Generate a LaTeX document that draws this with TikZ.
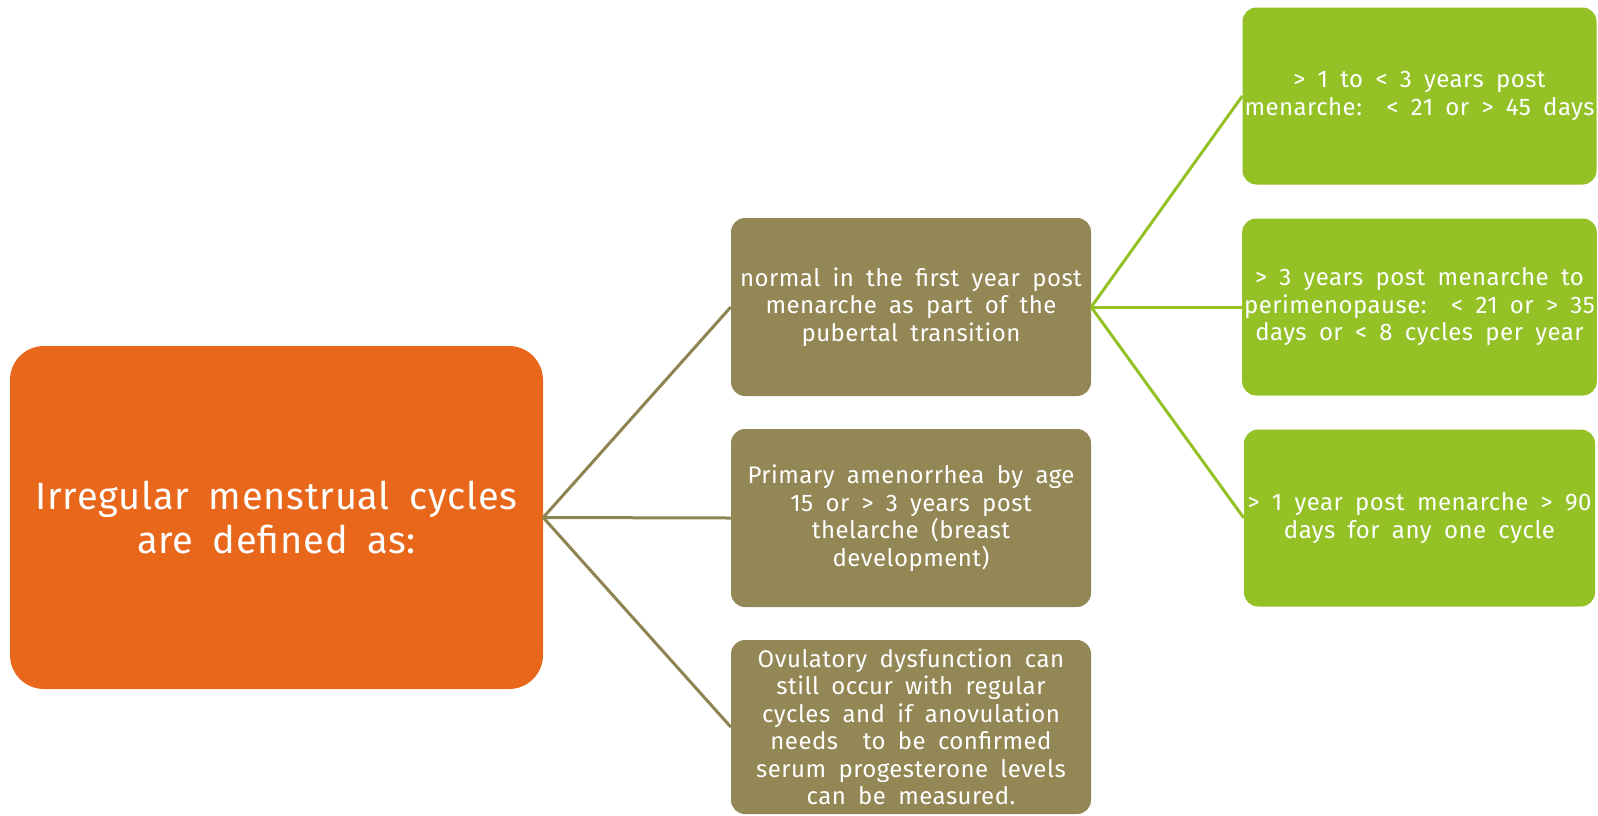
\documentclass[tikz,border=0pt]{standalone}
\usepackage{fontspec}
\setmainfont{Fira Sans}[WordSpace=1.8,LetterSpace=2]
\definecolor{rootorange}{HTML}{E8671A}
\definecolor{olivebox}{HTML}{938755}
\definecolor{greenbox}{HTML}{93C126}
\definecolor{oliveline}{HTML}{8E8452}
\begin{document}
\begin{tikzpicture}[x=1pt,y=-1pt,
  rootbox/.style={fill=rootorange, draw=none, rounded corners=34pt, text=white, align=center,
    minimum width=533pt, minimum height=343pt, inner sep=2pt,
    font=\fontsize{38}{44}\selectfont},
  midbox/.style={fill=olivebox, draw=none, rounded corners=14pt, text=white, align=center,
    minimum width=360pt, minimum height=178pt, inner sep=2pt,
    font=\fontsize{24}{27.5}\selectfont},
  rightbox/.style={fill=greenbox, draw=none, rounded corners=14pt, text=white, align=center,
    minimum width=351pt, minimum height=177pt, inner sep=2pt,
    font=\fontsize{24}{27.5}\selectfont},
  oconn/.style={draw=oliveline, line width=3pt},
  gconn/.style={draw=greenbox, line width=3pt}]
\useasboundingbox (0,0) rectangle (1598,815);

\node[rootbox] (root) at (276.5,517.5) {Irregular menstrual cycles\\are defined as:};

\node[midbox] (m1) at (911,307) {normal in the first year post\\menarche as part of the\\pubertal transition};
\node[midbox] (m2) at (911,518) {Primary amenorrhea by age\\15 or > 3 years post\\thelarche (breast\\development)};
\node[midbox, minimum height=174pt] (m3) at (911,727) {Ovulatory dysfunction can\\still occur with regular\\cycles and if anovulation\\needs\ \ to be confirmed\\serum progesterone levels\\can be measured.};

\node[rightbox] (r1) at (1419.5,96) {> 1 to < 3 years post\\menarche:\ \ < 21 or > 45 days};
\node[rightbox] (r2) at (1419.5,307) {> 3 years post menarche to\\perimenopause:\ \ < 21 or > 35\\days or < 8 cycles per year};
\node[rightbox] (r3) at (1419.5,518) {> 1 year post menarche > 90\\days for any one cycle};

\draw[oconn] (root.east) -- (m1.west);
\draw[oconn] (root.east) -- (m2.west);
\draw[oconn] (root.east) -- (m3.west);
\draw[gconn] (m1.east) -- (r1.west);
\draw[gconn] (m1.east) -- (r2.west);
\draw[gconn] (m1.east) -- (r3.west);
\end{tikzpicture}
\end{document}
